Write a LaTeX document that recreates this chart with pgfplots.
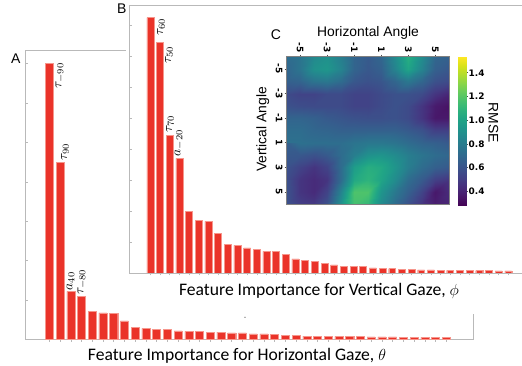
\documentclass[border=0pt]{standalone}
\usepackage{fontspec}
\usepackage{pgfplots}
\pgfplotsset{compat=1.18}
\newfontfamily\arialf{Liberation Sans}
\newfontfamily\calf{Carlito}
\newfontfamily\dv{DejaVu Sans}
\definecolor{barred}{RGB}{234,51,41}
\definecolor{baredge}{RGB}{246,150,140}
\definecolor{framegray}{RGB}{185,185,185}

\pgfplotstableread{
x y
1 276.2
2 176.8
3 48.2
4 42.8
5 28.3
6 26.7
7 26.0
8 18.7
9 12.3
10 11.0
11 10.3
12 10.3
13 8.7
14 8.0
15 8.0
16 7.3
17 7.3
18 6.7
19 6.7
20 5.7
21 5.7
22 5.0
23 4.2
24 4.0
25 3.4
26 3.2
27 3.1
28 3.0
29 2.9
30 2.8
31 2.7
32 2.6
33 2.5
34 2.4
35 2.3
36 2.2
37 2.1
38 2.0
}\horiz

\pgfplotstableread{
x y
1 255.3
2 230.7
3 137.3
4 114.7
5 61.7
6 52.3
7 51.7
8 39.3
9 28.7
10 27.7
11 25.0
12 23.3
13 21.7
14 21.7
15 18.3
16 14.0
17 12.7
18 11.7
19 9.3
20 8.0
21 6.7
22 6.7
23 6.3
24 5.0
25 4.7
26 4.3
27 3.7
28 3.4
29 3.2
30 3.0
31 2.8
32 2.7
33 2.6
34 2.5
35 2.4
36 2.3
37 2.2
38 2.1
}\vert

\pgfplotstableread{
x y c
0 0.28 0.28
1 0.28 0.28
0 0.405 0.405
1 0.405 0.405
0 0.53 0.53
1 0.53 0.53
0 0.655 0.655
1 0.655 0.655
0 0.78 0.78
1 0.78 0.78
0 0.905 0.905
1 0.905 0.905
0 1.03 1.03
1 1.03 1.03
0 1.155 1.155
1 1.155 1.155
0 1.28 1.28
1 1.28 1.28
0 1.405 1.405
1 1.405 1.405
0 1.53 1.53
1 1.53 1.53
}\cbar

\begin{document}
\begin{tikzpicture}
\useasboundingbox (0,0) rectangle (391.5pt,274.5pt);

% ---------------- Panel A ----------------
\begin{axis}[
  at={(19.3pt,19.9pt)}, anchor=south west, scale only axis,
  width=335.5pt, height=217.1pt,
  xmin=-1.2, xmax=40.5, ymin=0, ymax=289.5,
  axis line style={framegray, line width=0.6pt},
  xtick={1,...,38}, xticklabels={},
  ytick={0,39.4,78.8,118.2,157.6,197,236.4,275.8}, yticklabels={},
  xtick pos=bottom, ytick pos=left,
  xtick align=outside, ytick align=inside,
  major tick length=1.8pt,
  tick style={framegray, line width=0.4pt},
]
\addplot[ybar, bar width=0.75, fill=barred, draw=baredge, line width=0.3pt] table {\horiz};
\end{axis}

% white background of panel B
\fill[white] (94.5pt,39pt) rectangle (400pt,280pt);

% ---------------- Panel B ----------------
\begin{axis}[
  at={(97.0pt,69.75pt)}, anchor=south west, scale only axis,
  width=300.5pt, height=201pt,
  xmin=-1.18, xmax=40.25, ymin=0, ymax=268,
  axis line style={framegray, line width=0.6pt},
  xtick={1,...,38}, xticklabels={},
  ytick={0,31,62,93,124,155,186,217,248}, yticklabels={},
  xtick pos=bottom, ytick pos=left,
  xtick align=outside, ytick align=inside,
  major tick length=1.8pt,
  tick style={framegray, line width=0.4pt},
]
\addplot[ybar, bar width=0.72, fill=barred, draw=baredge, line width=0.3pt] table {\vert};
\end{axis}

% ---------------- Panel C ----------------
\begin{axis}[
  at={(215.0pt,121.3pt)}, anchor=south west, scale only axis,
  width=121.7pt, height=110.7pt,
  xmin=-6, xmax=6, ymin=-6, ymax=6,
  axis on top,
  colormap name=viridis,
  point meta min=0.28, point meta max=1.53,
  xtick={-5,-3,-1,1,3,5}, xticklabels={-5,-3,-1,1,3,5},
  ytick={-5,-3,-1,1,3,5}, yticklabels={5,3,1,-1,-3,-5},
  xtick pos=right, xticklabel pos=right, ytick pos=left,
  tick align=outside, major tick length=1.5pt,
  tick style={black!70, line width=0.4pt},
  axis line style={gray, line width=0.5pt},
  xticklabel style={rotate=-90, anchor=east, font=\dv\bfseries\fontsize{6.7}{7}\selectfont, inner sep=1.5pt},
  yticklabel style={rotate=-90, anchor=north, font=\dv\bfseries\fontsize{6.7}{7}\selectfont, inner sep=1.5pt},
]
\addplot[surf, shader=interp, mesh/cols=13, mesh/rows=13, point meta=explicit]
 table[row sep=\\, x expr={mod(\coordindex,13)-6}, y expr={6-floor(\coordindex/13)}, meta=c] {
c\\
0.72\\0.76\\0.87\\0.91\\0.81\\0.68\\0.63\\0.69\\0.88\\1.06\\0.88\\0.69\\0.66\\
0.69\\0.76\\0.91\\0.94\\0.84\\0.68\\0.62\\0.66\\0.84\\1.01\\0.84\\0.66\\0.62\\
0.66\\0.68\\0.76\\0.78\\0.72\\0.62\\0.59\\0.61\\0.69\\0.78\\0.69\\0.59\\0.56\\
0.56\\0.53\\0.53\\0.56\\0.56\\0.53\\0.53\\0.56\\0.59\\0.59\\0.56\\0.47\\0.41\\
0.59\\0.57\\0.56\\0.56\\0.56\\0.53\\0.53\\0.56\\0.59\\0.56\\0.47\\0.37\\0.34\\
0.68\\0.68\\0.66\\0.63\\0.61\\0.59\\0.58\\0.58\\0.59\\0.56\\0.47\\0.36\\0.36\\
0.72\\0.72\\0.69\\0.68\\0.66\\0.66\\0.66\\0.66\\0.66\\0.63\\0.59\\0.51\\0.51\\
0.74\\0.74\\0.73\\0.73\\0.73\\0.76\\0.78\\0.78\\0.76\\0.72\\0.68\\0.66\\0.63\\
0.66\\0.62\\0.59\\0.63\\0.72\\0.81\\0.91\\0.93\\0.88\\0.81\\0.76\\0.72\\0.69\\
0.59\\0.53\\0.47\\0.53\\0.72\\0.97\\1.06\\1.03\\0.93\\0.81\\0.72\\0.66\\0.63\\
0.56\\0.47\\0.43\\0.47\\0.72\\1.03\\1.09\\1.01\\0.88\\0.72\\0.63\\0.51\\0.47\\
0.59\\0.47\\0.43\\0.53\\0.84\\1.18\\1.18\\0.93\\0.78\\0.66\\0.53\\0.36\\0.43\\
0.59\\0.51\\0.49\\0.59\\0.91\\1.16\\1.11\\0.88\\0.72\\0.59\\0.47\\0.38\\0.41\\
};
\end{axis}

% ---------------- Colorbar of C ----------------
\begin{axis}[
  at={(343.5pt,120.2pt)}, anchor=south west, scale only axis,
  width=6pt, height=111.3pt,
  xmin=0, xmax=1, ymin=0.28, ymax=1.53,
  colormap name=viridis,
  point meta min=0.28, point meta max=1.53,
  xtick=\empty,
  ytick={0.4,0.6,0.8,1.0,1.2,1.4},
  yticklabels={0.4,0.6,0.8,1.0,1.2,1.4},
  ytick pos=right, yticklabel pos=right,
  tick align=outside, major tick length=1.2pt,
  tick style={black!70, line width=0.4pt},
  axis line style={draw=none},
  yticklabel style={font=\dv\bfseries\fontsize{6.7}{7}\selectfont, inner sep=0.6pt},
]
\addplot[surf, shader=interp, mesh/cols=2, point meta=explicit] table[meta=c] {\cbar};
\end{axis}

% ---------------- Text ----------------
\node[font=\arialf\fontsize{10.5}{10.5}\selectfont] at (11.8pt,230.25pt) {A};
\node[font=\arialf\fontsize{10.5}{10.5}\selectfont] at (91.3pt,267.75pt) {B};
\node[font=\arialf\fontsize{10.5}{10.5}\selectfont] at (207pt,248.25pt) {C};

\node[font=\arialf\fontsize{10.4}{11}\selectfont] at (276pt,249.75pt) {Horizontal Angle};
\node[font=\arialf\fontsize{10.4}{11}\selectfont, rotate=90] at (197.0pt,177.4pt) {Vertical Angle};
\node[font=\arialf\fontsize{10.4}{11}\selectfont, rotate=-90] at (370pt,182.25pt) {RMSE};

\node[font=\calf\fontsize{13.2}{14}\selectfont] at (239.25pt,56.6pt) {Feature Importance for Vertical Gaze, $\phi$};
\node[font=\calf\fontsize{13.2}{14}\selectfont] at (177.75pt,7.9pt) {Feature Importance for Horizontal Gaze, $\theta$};

\fill[black!70] (183.75pt,36.5pt) circle (0.5pt);

\begin{scope}[every node/.style={rotate=90, inner sep=0pt, font=\fontsize{10}{10}\selectfont}]
\node at (45pt,217.9pt) {$\tau_{-90}$};
\node at (48.75pt,160.7pt) {$\tau_{90}$};
\node at (52.9pt,63.75pt) {$a_{40}$};
\node at (61.5pt,63pt) {$\tau_{-80}$};
\node at (120.75pt,254.5pt) {$\tau_{60}$};
\node at (126.75pt,233.25pt) {$\tau_{50}$};
\node at (127.5pt,181.5pt) {$\tau_{70}$};
\node at (134.25pt,167.25pt) {$a_{-20}$};
\end{scope}
\end{tikzpicture}
\end{document}
